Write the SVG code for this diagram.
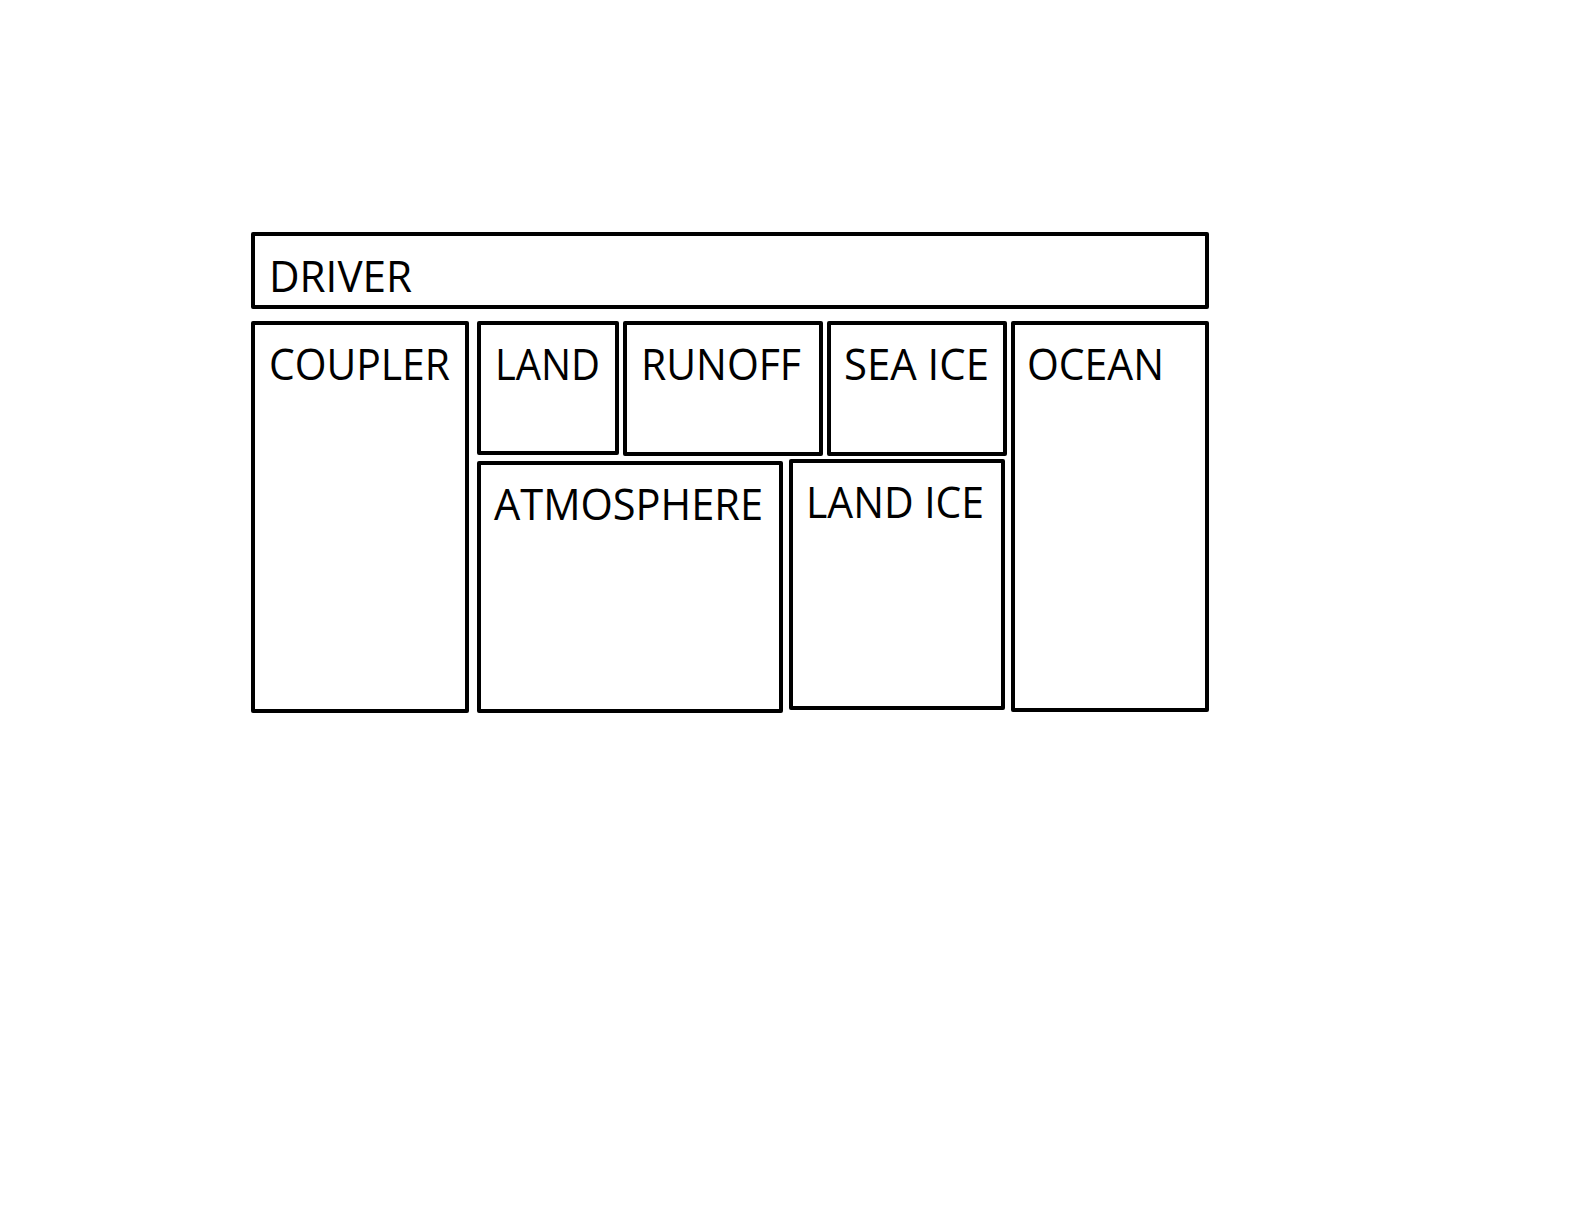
<svg xmlns="http://www.w3.org/2000/svg" width="1584" height="1224" viewBox="0 0 1584 1224">
<style>
rect.box{fill:#fff;stroke:#000;stroke-width:4;stroke-linejoin:round}
text{font-family:"Open Sans","Noto Sans","Liberation Sans",sans-serif;font-size:43px;fill:#000}
</style>
<rect width="1584" height="1224" fill="#fff"/>
<g id="driver"><rect class="box" x="253" y="234" width="954" height="73"/><text x="269" y="292" textLength="143" lengthAdjust="spacingAndGlyphs">DRIVER</text></g>
<g id="coupler"><rect class="box" x="253" y="323" width="214" height="388"/><text x="269" y="380" textLength="181" lengthAdjust="spacingAndGlyphs">COUPLER</text></g>
<g id="land"><rect class="box" x="479" y="323" width="138" height="130"/><text x="495" y="380" textLength="105" lengthAdjust="spacingAndGlyphs">LAND</text></g>
<g id="runoff"><rect class="box" x="625" y="323" width="196" height="131"/><text x="641" y="380" textLength="160" lengthAdjust="spacingAndGlyphs">RUNOFF</text></g>
<g id="seaice"><rect class="box" x="829" y="323" width="176" height="131"/><text x="844" y="380" textLength="145" lengthAdjust="spacingAndGlyphs">SEA ICE</text></g>
<g id="ocean"><rect class="box" x="1013" y="323" width="194" height="387"/><text x="1027" y="380" textLength="137" lengthAdjust="spacingAndGlyphs">OCEAN</text></g>
<g id="atmosphere"><rect class="box" x="479" y="463" width="302" height="248"/><text x="494" y="520" textLength="269" lengthAdjust="spacingAndGlyphs">ATMOSPHERE</text></g>
<g id="landice"><rect class="box" x="791" y="461" width="212" height="247"/><text x="806" y="518" textLength="178" lengthAdjust="spacingAndGlyphs">LAND ICE</text></g>
<g id="connectors"></g>
</svg>
